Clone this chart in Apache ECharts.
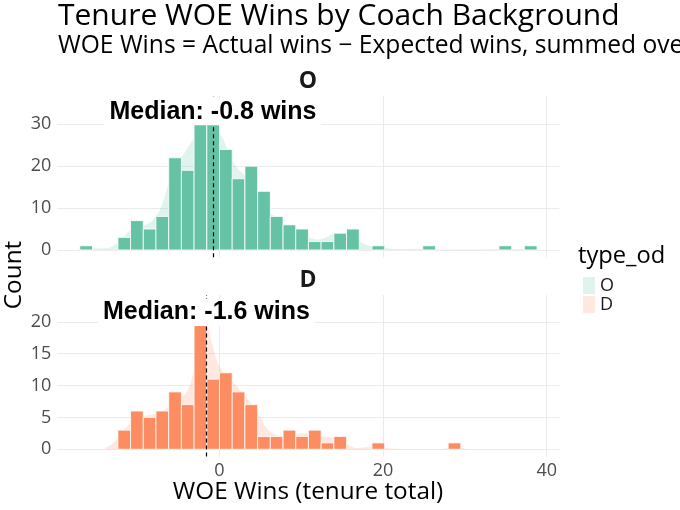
<!DOCTYPE html>
<html>
<head>
<meta charset="utf-8">
<script src="https://cdn.jsdelivr.net/npm/echarts@6/dist/echarts.min.js"></script>
<style>html,body{margin:0;padding:0;background:#fff;}#c{width:680px;height:510px;}</style>
</head>
<body>
<div id="c"></div>
<script>
// ---- data ----
const binWidth = 1.553;
const binStarts = [-17.08,-15.53,-13.98,-12.42,-10.87,-9.32,-7.77,-6.21,-4.66,-3.11,-1.55,0,
  1.55,3.11,4.66,6.21,7.77,9.32,10.87,12.42,13.98,15.53,17.08,18.64,20.19,21.74,23.30,24.85,
  26.40,27.95,29.51,31.06,32.61,34.17,35.72,37.27];
const countsO = [1,0,0,3,7,5,8,22,19,30,30,24,17,20,14,8,6,5,2,2,4,5,0,1,0,0,0,1,0,0,0,0,0,1,0,1];
const countsD = [0,0,0,3,6,5,6,9,7,19.5,11,12,9,7,2,2,3,2,3,1,2,0,0,1,0,0,0,0,0,1,0,0,0,0,0,0];
const medianO = -0.8;
const medianD = -1.6;
const labelYO = 33;
const labelYD = 21.45;
const densityO = [[-17,0.1],[-16,0.4],[-15,0.4],[-14,0.4],[-13,1],[-12,2.5],[-11,4.5],[-10,5.5],[-9,6],
  [-8,7.5],[-7,11],[-6,17],[-5,21],[-4,24],[-3,27],[-2,29.5],[-1,30],[0,28],[1,24],[2,20],[3,18],
  [4,16],[5,13],[6,9.5],[7,7.5],[8,6],[9,5],[10,4],[11,3],[12,2.5],[13,3],[14,3.8],[15,4],[16,3.5],
  [17,2.2],[18,1.2],[19,0.8],[20,0.5],[22,0.2],[24,0.3],[26,0.1],[30,0.1],[34,0.2],[36,0.2],[38,0.1],[39,0]];
const densityD = [[-14,0.2],[-13,1],[-12,2.5],[-11,4],[-10,5],[-9,5.3],[-8,5.5],[-7,6],[-6,7],[-5,8],
  [-4,9],[-3,13],[-2,18],[-1.5,19],[-1,17],[0,13],[1,11.5],[2,10],[3,8.5],[4,7],[5,5],[6,3],[7,2.2],
  [8,2],[9,2.2],[10,2.5],[11,2.5],[12,2],[13,2],[14,1.8],[15,1.5],[16,0.5],[17,0.2],[18,0.3],[19,0.5],
  [20,0.3],[22,0.05],[27,0.05],[28,0.2],[29,0.3],[30,0.1],[31,0]];
const xTicks = [0,20,40];
const yTicksO = [0,10,20,30];
const yTicksD = [0,5,10,15,20];
const groups = ['O','D'];

// ---- styles ----
const colO = '#66c2a5', colD = '#fc8d62';
const fam = '"Open Sans", sans-serif';
const gridCol = '#ebebeb';

function barData(counts){
  const out = [];
  for (let i = 0; i < binStarts.length; i++) {
    if (counts[i] > 0) out.push([binStarts[i], binStarts[i] + binWidth, counts[i]]);
  }
  return out;
}
function barSeries(counts, idx, color, median){
  return {
    type: 'custom', xAxisIndex: idx, yAxisIndex: idx, z: 3,
    encode: {x: [0,1], y: 2},
    data: barData(counts),
    renderItem: function(params, api){
      const p0 = api.coord([api.value(0), api.value(2)]);
      const p1 = api.coord([api.value(1), 0]);
      return {type:'rect', shape:{x:p0[0], y:p0[1], width:p1[0]-p0[0], height:p1[1]-p0[1]},
        style:{fill:color, stroke:'#ffffff', lineWidth:0.8}};
    },
    markLine: {
      silent: true, symbol: 'none', z: 4,
      label: {show:false},
      lineStyle: {color:'#000', type:[4,3], width:1.2},
      data: [{xAxis: median}]
    }
  };
}
function densitySeries(name, pts, idx, color){
  return {
    name: name, type:'line', xAxisIndex: idx, yAxisIndex: idx, z: 2,
    data: pts, smooth: true, symbol:'none', showSymbol:false,
    lineStyle: {width:0, opacity:0},
    itemStyle: {color: color},
    areaStyle: {color: color, opacity: 1}
  };
}
function labelSeries(median, ly, idx){
  return {
    type:'custom', xAxisIndex: idx, yAxisIndex: idx, z: 10, silent:true,
    encode: {x:0, y:1},
    data: [[median, ly]],
    renderItem: function(params, api){
      const p = api.coord([api.value(0), api.value(1)]);
      return {type:'text', x:p[0], y:p[1], z2: 100,
        style:{text:'Median: ' + median.toFixed(1) + ' wins',
          font:'bold 25px "Liberation Sans", Arial, sans-serif', fill:'#000',
          align:'center', verticalAlign:'middle',
          backgroundColor:'#ffffff', padding:[1,5,1,5]}};
    }
  };
}
function xAxisCfg(idx, showLabels){
  return {
    type:'value', gridIndex: idx, min:-19.83, max:41.54,
    axisLine:{show:false},
    axisTick:{show:false, customValues: xTicks},
    axisLabel:{show: showLabels, customValues: xTicks, color:'#4d4d4d', fontSize:18, fontFamily: fam, margin:5},
    splitLine:{show:true, lineStyle:{color:gridCol, width:1}}
  };
}
function yAxisCfg(idx, min, max, ticks){
  return {
    type:'value', gridIndex: idx, min:min, max:max,
    axisLine:{show:false},
    axisTick:{show:false, customValues: ticks},
    axisLabel:{show:true, customValues: ticks, color:'#4d4d4d', fontSize:18, fontFamily: fam, margin:6},
    splitLine:{show:true, lineStyle:{color:gridCol, width:1}}
  };
}

const chart = echarts.init(document.getElementById('c'), null, {renderer:'canvas'});
chart.setOption({
  animation: false,
  backgroundColor: '#ffffff',
  grid: [
    {left:57.3, top:96, width:502, height:161.3},
    {left:57.3, top:295, width:502, height:161.6}
  ],
  xAxis: [xAxisCfg(0,false), xAxisCfg(1,true)],
  yAxis: [yAxisCfg(0,-1.75,36.75,yTicksO), yAxisCfg(1,-1.15,24.2,yTicksD)],
  legend: {
    selectedMode:false, orient:'vertical', left:578, top:271.5,
    icon:'rect', itemWidth:12, itemHeight:17, itemGap:1,
    textStyle:{fontFamily:fam, fontSize:18, color:'#1a1a1a'},
    data:[{name:groups[0], itemStyle:{color:'#e0f3ed'}}, {name:groups[1], itemStyle:{color:'#fee8e0'}}]
  },
  graphic: [
    {type:'text', left:58, top:1, style:{text:'Tenure WOE Wins by Coach Background', font:'30px "Open Sans", sans-serif', fill:'#000'}},
    {type:'text', left:58, top:33, style:{text:'WOE Wins = Actual wins \u2212 Expected wins, summed over', font:'24.6px "Open Sans", sans-serif', fill:'#000'}},
    {type:'text', x:308, y:81, style:{text:groups[0], font:'bold 23px "Open Sans", sans-serif', fill:'#1a1a1a', textAlign:'center', textVerticalAlign:'middle'}},
    {type:'text', x:308, y:280, style:{text:groups[1], font:'bold 23px "Open Sans", sans-serif', fill:'#1a1a1a', textAlign:'center', textVerticalAlign:'middle'}},
    {type:'text', x:308, y:492, style:{text:'WOE Wins (tenure total)', font:'24.3px "Open Sans", sans-serif', fill:'#000', textAlign:'center', textVerticalAlign:'middle'}},
    {type:'text', x:14, y:275, rotation:Math.PI/2, style:{text:'Count', font:'24.3px "Open Sans", sans-serif', fill:'#000', textAlign:'center', textVerticalAlign:'middle'}},
    {type:'text', x:578, y:256.7, style:{text:'type_od', font:'23.7px "Open Sans", sans-serif', fill:'#000', textAlign:'left', textVerticalAlign:'middle'}}
  ],
  series: [
    densitySeries(groups[0], densityO, 0, 'rgba(102,194,165,0.2)'),
    densitySeries(groups[1], densityD, 1, 'rgba(252,141,98,0.2)'),
    barSeries(countsO, 0, colO, medianO),
    barSeries(countsD, 1, colD, medianD),
    labelSeries(medianO, labelYO, 0),
    labelSeries(medianD, labelYD, 1)
  ]
});
</script>
</body>
</html>
